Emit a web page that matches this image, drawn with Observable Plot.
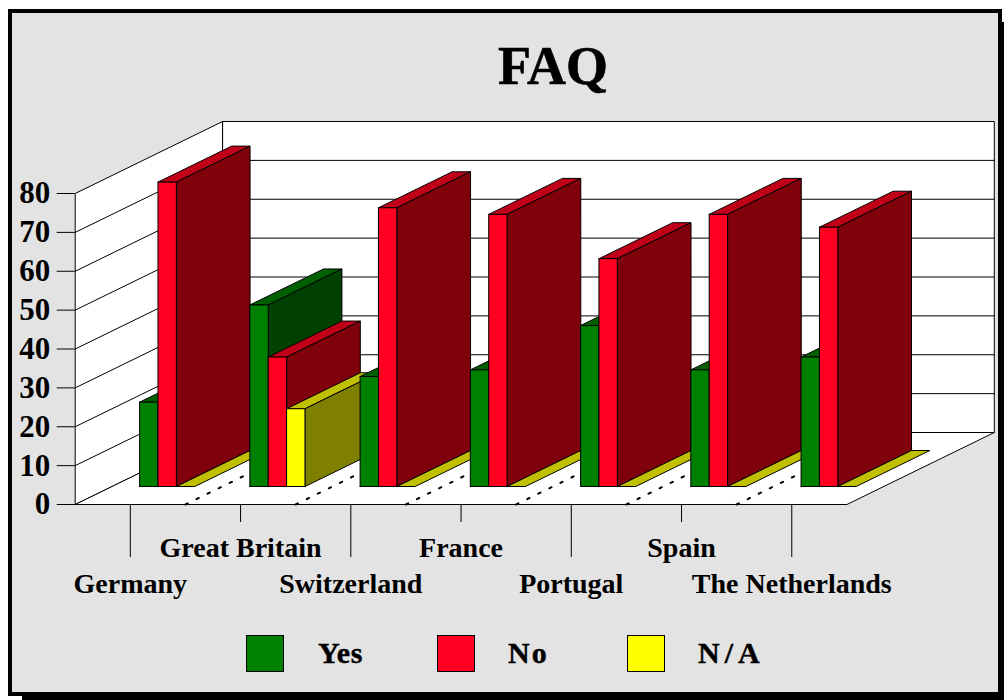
<!DOCTYPE html>
<html>
<head>
<meta charset="utf-8">
<script src="https://cdn.jsdelivr.net/npm/d3@7"></script>
<script src="https://cdn.jsdelivr.net/npm/@observablehq/plot@0.6"></script>
<style>
  html, body { margin: 0; padding: 0; background: #fff; overflow: hidden; }
  body { width: 1004px; height: 700px; position: relative; font-family: "Liberation Serif", serif; font-weight: bold; color: #000; }
  #shadow { position: absolute; left: 22px; top: 22px; width: 982px; height: 678px; background: #000; }
  #panel { position: absolute; left: 8px; top: 9px; width: 986px; height: 679px; background: #e3e3e3; border: 4px solid #000; }
  #chart { position: absolute; left: 0; top: 0; }
  h1 { position: absolute; left: 453px; width: 200px; top: 39px; margin: 0; text-align: center; font-size: 54px; line-height: 54px; font-weight: bold; -webkit-text-stroke: 0.6px #000; }
  .swatch { position: absolute; top: 635px; width: 36px; height: 35px; border: 1px solid #000; }
  .key { position: absolute; top: 637px; font-size: 30px; line-height: 32px; -webkit-text-stroke: 0.4px #000; }
  #chart text { -webkit-text-stroke: 0.4px #000; }
</style>
</head>
<body>
<div id="shadow"></div>
<div id="panel"></div>
<div id="chart"></div>
<h1>FAQ</h1>
<div id="legend"></div>
<script>
const categories = ["Germany", "Great Britain", "Switzerland", "France", "Portugal", "Spain", "The Netherlands"];
const yes = [21.7, 46.7, 28.3, 30, 41.4, 30, 33.3];
const no  = [78.3, 33.3, 71.7, 70, 58.6, 70, 66.7];
const na  = [0, 20, 0, 0, 0, 0, 0];
const yTicks = [0, 10, 20, 30, 40, 50, 60, 70, 80];
const seriesNames = ["Yes", "No", "N/A"];
const seriesValues = [yes, no, na];
const frontColors = ["#008000", "#ff0020", "#ffff00"];
const topColors   = ["#006000", "#c00018", "#c0c000"];
const sideColors  = ["#004000", "#80000c", "#808000"];
const keyTracking = [0.5, 2, 5];

// Oblique projection: depth d in 0..1 shifts a point right and up, in scale units.
const depthX = 1.337, depthY = 18.52;
const at = (x, v, d) => ({x: x + depthX * d, y: v + depthY * d});
const n = categories.length;
const poly = (id, fill, pts) => [...pts, pts[0]].map(p => ({id, fill, ...p}));

const walls = [
  ...poly("side", "#fff", [at(0,0,0), at(0,0,1), at(0,80,1), at(0,80,0)]),
  ...poly("back", "#fff", [at(0,0,1), at(n,0,1), at(n,80,1), at(0,80,1)]),
  ...poly("floor", "#fff", [at(0,0,0), at(n,0,0), at(n,0,1), at(0,0,1)])
];
const grid = yTicks.slice(1, -1).flatMap(v => [
  {id: "s" + v, ...at(0, v, 0)}, {id: "s" + v, ...at(0, v, 1)},
  {id: "b" + v, ...at(0, v, 1)}, {id: "b" + v, ...at(n, v, 1)}
]);
const dots = d3.range(1, n).flatMap(i => [
  {id: i, ...at(i, 0, 0)}, {id: i, ...at(i, 0, 1)}
]);

const d0 = 0.25, d1 = 0.75, barW = 0.5 / 3;
const bars = categories.flatMap((c, i) => seriesValues.flatMap((vals, s) => {
  const v = vals[i], a = i + 0.25 + s * barW, b = a + barW, id = c + seriesNames[s];
  const top = poly(id + "t", topColors[s], [at(a,v,d0), at(b,v,d0), at(b,v,d1), at(a,v,d1)]);
  if (v === 0) return top;
  return [
    ...top,
    ...poly(id + "r", sideColors[s], [at(b,0,d0), at(b,0,d1), at(b,v,d1), at(b,v,d0)]),
    ...poly(id + "f", frontColors[s], [at(a,0,d0), at(b,0,d0), at(b,v,d0), at(a,v,d0)])
  ];
}));

const centers = categories.map((c, i) => i + 0.5);
const fmt = x => categories[Math.round(x - 0.5)];

const plot = Plot.plot({
  width: 1004, height: 700,
  marginLeft: 74.7, marginRight: 157.6, marginTop: 193, marginBottom: 196,
  x: {domain: [0, n]},
  y: {domain: [0, 80]},
  color: {type: "identity"},
  style: {background: "transparent", fontFamily: "'Liberation Serif', serif", fontSize: "28px", fontWeight: "bold", color: "#000", overflow: "visible"},
  marks: [
    Plot.line(walls, {x: "x", y: "y", z: "id", fill: "fill", stroke: "#000", strokeWidth: 1}),
    Plot.line(grid, {x: "x", y: "y", z: "id", stroke: "#000", strokeWidth: 1}),
    Plot.line(dots, {x: "x", y: "y", z: "id", stroke: "#000", strokeWidth: 2, strokeDasharray: "2.5,9.8"}),
    Plot.line(bars, {x: "x", y: "y", z: "id", fill: "fill", stroke: "#000", strokeWidth: 1, strokeLinejoin: "miter"}),
    Plot.axisY(yTicks, {anchor: "left", label: null, tickSize: 18, tickPadding: 7, fontSize: 31, stroke: "#000", fill: "#000", strokeOpacity: 1}),
    Plot.axisX(centers.filter((c, i) => i % 2 === 1), {anchor: "bottom", label: null, tickSize: 18, tickPadding: 15, tickFormat: fmt, stroke: "#000", fill: "#000", strokeOpacity: 1}),
    Plot.axisX(centers.filter((c, i) => i % 2 === 0), {anchor: "bottom", label: null, tickSize: 53, tickPadding: 16, tickFormat: fmt, stroke: "#000", fill: "#000", strokeOpacity: 1})
  ]
});
document.getElementById("chart").appendChild(plot);

const legend = document.getElementById("legend");
seriesNames.forEach((name, s) => {
  const sw = document.createElement("div");
  sw.className = "swatch";
  sw.style.left = (246 + s * 190.7) + "px";
  sw.style.background = frontColors[s];
  const t = document.createElement("div");
  t.className = "key";
  t.style.left = (318 + s * 190) + "px";
  t.style.letterSpacing = keyTracking[s] + "px";
  t.textContent = name;
  legend.append(sw, t);
});
</script>
</body>
</html>
